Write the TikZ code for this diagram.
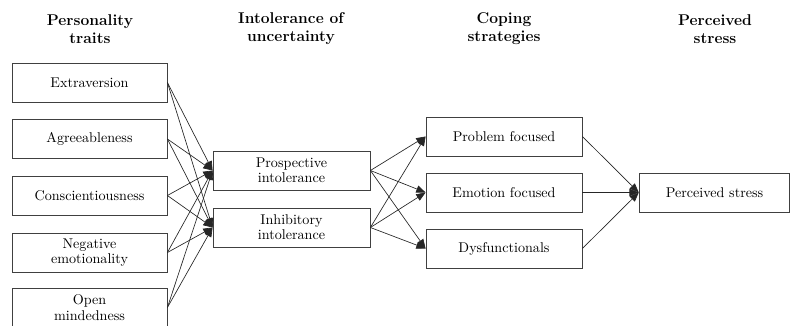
\documentclass[tikz,border=0pt]{standalone}
\usetikzlibrary{arrows.meta}
\begin{document}
\begin{tikzpicture}[x=0.75pt,y=-0.75pt,
  box/.style={draw=black!75, line width=0.6pt, inner sep=0pt, align=center,
    minimum height=29.25pt, font=\fontsize{10.6}{11.5}\selectfont},
  leftbox/.style={box, minimum width=116.25pt},
  midbox/.style={box, minimum width=117.75pt},
  rightbox/.style={box, minimum width=117pt},
  endbox/.style={box, minimum width=113pt},
  head/.style={align=center, font=\fontsize{11.7}{13.5}\selectfont\bfseries},
  arr/.style={draw=black!85, line width=0.5pt, -{Triangle[length=7pt,width=5.5pt]}}]
\clip (0,0) rectangle (792,325);

% column titles
\node[head] (h1) at (90,29) {Personality\\traits};
\node[head] (h2) at (291,29) {Intolerance of\\uncertainty};
\node[head] (h3) at (504,29) {Coping\\strategies};
\node[head] (h4) at (715,29) {Perceived\\stress};

% personality traits
\node[leftbox] (ext) at (89.5,82.5) {Extraversion};
\node[leftbox] (agr) at (89.5,139) {Agreeableness};
\node[leftbox] (con) at (89.5,195.5) {Conscientiousness};
\node[leftbox] (neg) at (89.5,252.5) {Negative\\emotionality};
\node[leftbox] (ope) at (89.5,307.5) {Open\\mindedness};

% intolerance of uncertainty
\node[midbox] (pro) at (291.5,170.5) {Prospective\\intolerance};
\node[midbox] (inh) at (291.5,227.5) {Inhibitory\\intolerance};

% coping strategies
\node[rightbox] (pf) at (504,136.5) {Problem focused};
\node[rightbox] (ef) at (504,192.5) {Emotion focused};
\node[rightbox] (dy) at (504,248.5) {Dysfunctionals};

% outcome
\node[endbox] (ps) at (714.5,192.5) {Perceived stress};

% traits -> intolerance
\foreach \t in {ext,agr,con,neg,ope}{
  \draw[arr] (\t.east) -- (pro.west);
  \draw[arr] (\t.east) -- (inh.west);
}
% intolerance -> coping
\foreach \i in {pro,inh}{
  \foreach \c in {pf,ef,dy}{
    \draw[arr] (\i.east) -- (\c.west);
  }
}
% coping -> stress
\foreach \c in {pf,ef,dy}{
  \draw[arr] (\c.east) -- (ps.west);
}
\end{tikzpicture}
\end{document}
